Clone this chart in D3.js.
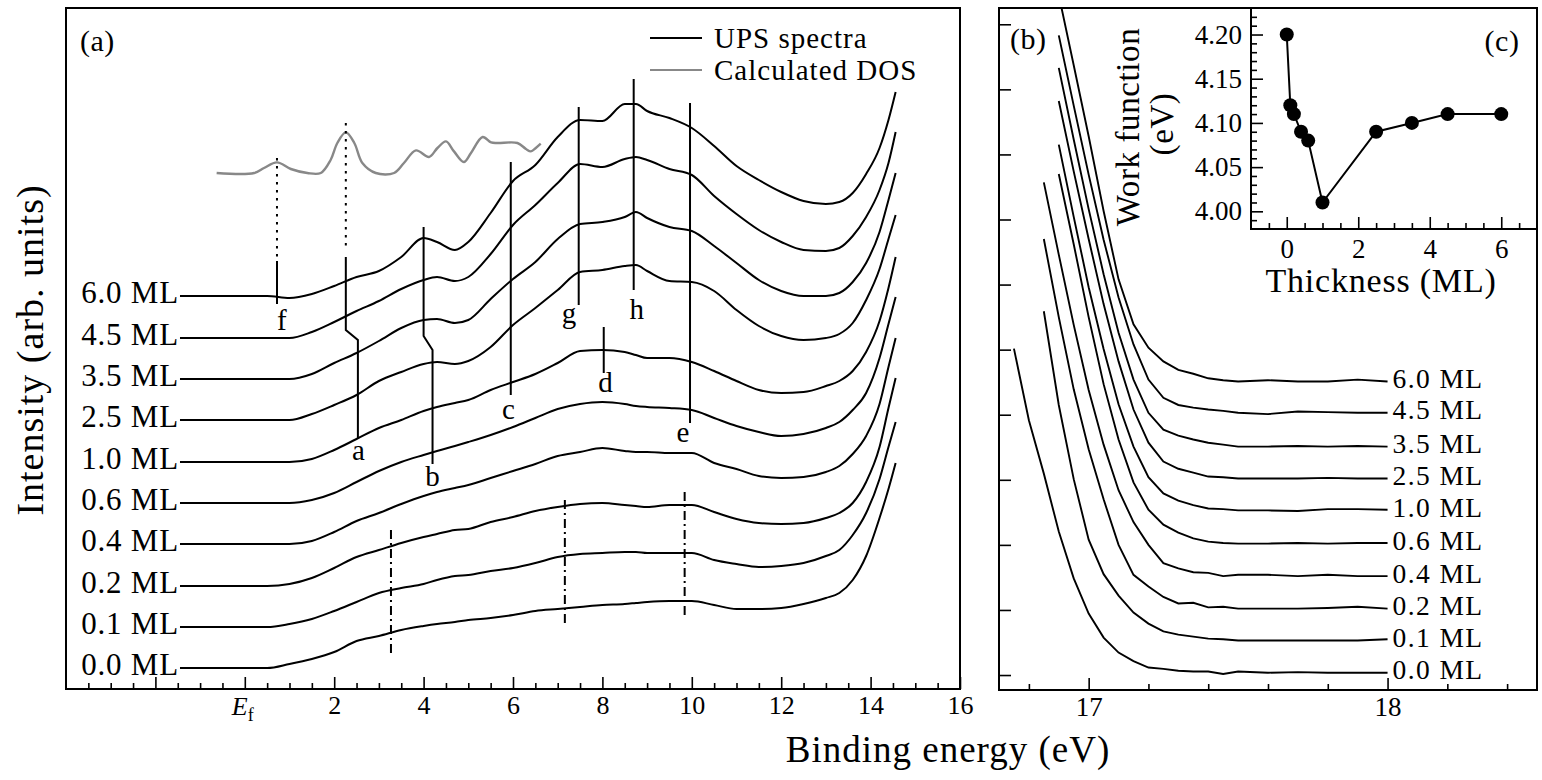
<!DOCTYPE html>
<html><head><meta charset="utf-8">
<script src="https://cdn.jsdelivr.net/npm/d3@7"></script>
<style>
body{margin:0;background:#fff}
svg{display:block}
text{font-family:"Liberation Serif","Times New Roman",serif;fill:#000}
</style>
</head><body>
<svg id="chart" width="1542" height="780"></svg>
<script>
// ---------------- DATA ----------------
const thicknessLabels = ["6.0 ML","4.5 ML","3.5 ML","2.5 ML","1.0 ML","0.6 ML","0.4 ML","0.2 ML","0.1 ML","0.0 ML"];

// Panel (a): UPS spectra, binding energy grid (eV)
const energyA = [-1.45,0,0.5,1.0,1.5,2.0,2.5,3.0,3.5,4.0,4.3,4.7,5.0,5.5,6.0,6.5,7.0,7.5,8.0,8.5,8.75,9.0,9.5,10.0,10.5,11.0,11.5,12.0,12.5,13.0,13.3,13.6,13.9,14.2,14.4,14.56];
const offsetA = [393,351,310,269,227,186,145,103,62,21];
const ups60 = [0,0,0,-2,2,10,19,25,39,58,54,46,54,83,115,131,159,176,175,192,192,185,178,168,150,130,116,104,95,92,94,103,122,148,176,204];
const ups45 = [0,0,0,0,6,16,27,37,49,58,61,57,61,84,113,133,155,174,171,179,181,178,169,163,142,124,108,96,88,87,90,102,121,148,175,206];
const ups35 = [0,0,0,0,5,16,26,38,51,59,60,56,59,80,100,117,140,155,157,162,167,161,152,148,133,116,99,88,83,83,86,97,116,147,179,206];
const ups25 = [0,0,0,0,6,15,25,39,48,56,58,56,59,73,95,112,130,148,150,154,155,149,139,138,129,110,94,84,80,82,86,97,120,151,181,205];
const ups10 = [0,0,0,0,3,12,23,34,42,51,55,59,62,72,80,88,99,111,112,110,107,104,104,100,91,81,72,69,70,76,81,91,110,141,174,205];
const ups06 = [0,0,0,0,3,10,21,32,41,48,52,57,61,68,76,85,94,99,101,99,97,96,95,93,85,77,71,67,69,75,81,93,110,145,179,206];
const ups04 = [0,0,0,0,3,12,23,31,40,48,52,56,59,66,73,80,88,92,96,93,92,92,91,91,81,75,68,66,67,72,78,90,108,140,177,206];
const ups02 = [0,0,0,2,8,18,29,36,43,49,52,56,57,64,69,75,79,82,83,81,80,79,81,81,74,67,63,62,63,68,73,83,104,139,178,208];
const ups01 = [0,0,0,3,8,16,25,34,39,43,47,51,52,56,59,64,70,73,74,75,75,74,74,74,67,63,60,61,64,71,77,92,114,148,180,205];
const ups00 = [0,0,0,4,9,16,27,32,38,42,44,46,48,50,53,57,59,61,63,64,65,66,67,67,63,59,59,60,64,70,75,88,112,150,179,205];
const upsSeries = [ups60,ups45,ups35,ups25,ups10,ups06,ups04,ups02,ups01,ups00];

// Calculated DOS
const dosE = [-0.63,0.21,0.43,0.72,1.03,1.40,1.70,1.92,2.07,2.26,2.45,2.63,2.93,3.34,3.56,3.83,4.12,4.31,4.50,4.68,4.90,5.06,5.32,5.51,5.65,6.10,6.29,6.40,6.51,6.62];
const dosI = [0,0,5,10.6,4,0,0,13,30,40.6,30,10,0,0,10,22.6,16,25,31.6,21.6,11,20,36,30.6,30,30,24,21.6,25,29.3];
const dosOffset = 516;

// Peak markers (energy, top, bottom) and labels
const peakNames = ["c","g","h","d","e"];
const peakE = [5.95,7.47,8.70,8.03,9.96];
const peakTop = [527,582,610,362,586];
const peakBottom = [294,384,399,316,266];
const peakLabelE = [5.9,7.25,8.77,8.07,9.8];
const peakLabelV = [280,376,380,307,257];
// kinked markers a, b and f
const markA_E = [2.26,2.26,2.53,2.53], markA_V = [432,359,349,251];
const markB_E = [4.0,4.0,4.2,4.2], markB_V = [462,353,339,225];
const markF_E = [0.72,0.72], markF_V = [428,385];
const kinkLabels = ["a","b","f"], kinkLabelE = [2.54,4.2,0.83], kinkLabelV = [239,213,369];
// dotted DOS-to-peak guides
const dotE = [0.72,2.26], dotTop = [531,566], dotBottom = [428,442];
// dash-dot guides
const dashE = [3.27,7.16,9.84], dashTop = [159,189,197], dashBottom = [32,62,71];

const tickLabelsA = [2,4,6,8,10,12,14,16];

// Panel (b): secondary-electron cutoff
const energyB = [16.75,16.80,16.85,16.90,16.95,17.00,17.05,17.10,17.15,17.20,17.25,17.30,17.35,17.40,17.45,17.50,17.60,17.70,17.80,17.90,18.00];
const offsetB = [4.51,4.03,3.51,3.02,2.53,2.02,1.52,1.02,0.53,0.035];
const cut60 = [null,null,7.03,5.94,4.86,3.77,2.62,1.57,0.88,0.52,0.31,0.18,0.12,0.05,0.02,0,0.02,0,0,0.03,0];
const cut45 = [null,null,null,5.80,4.72,3.66,2.66,1.77,1.05,0.51,0.23,0.12,0.08,0.05,0.03,0,-0.02,0.02,0.01,0,0];
const cut35 = [null,null,null,5.82,4.72,3.65,2.65,1.75,1.03,0.52,0.26,0.17,0.11,0.06,0.03,0,0,0.01,0,0.01,0];
const cut25 = [null,null,null,5.80,4.72,3.68,2.68,1.80,1.06,0.55,0.26,0.15,0.09,0.03,0.02,0,0,0,0.01,0,0];
const cut10 = [null,null,null,5.62,4.51,3.43,2.48,1.63,0.98,0.51,0.26,0.15,0.08,0.03,0.02,0,0,-0.01,0.02,0.02,0.01];
const cut06 = [null,null,null,5.68,4.60,3.48,2.45,1.60,0.94,0.52,0.29,0.17,0.08,0.03,0.01,0,0,0.01,0,0.01,0.01];
const cut04 = [null,null,6.05,4.94,3.86,2.86,2.02,1.32,0.83,0.48,0.20,0.12,0.06,0.05,0,0.02,0.02,0,0.02,0,0];
const cut02 = [null,null,5.68,4.48,3.37,2.45,1.68,0.98,0.52,0.34,0.18,0.08,0.09,0.02,0.03,0,0,0,0.01,0.03,0];
const cut01 = [null,null,5.06,3.62,2.48,1.55,1.02,0.69,0.43,0.26,0.14,0.09,0.06,0.03,0.02,0,0,0,0,0,0.02];
const cut00 = [4.98,3.88,3.06,2.17,1.45,0.91,0.54,0.31,0.18,0.08,0.06,0.03,0.02,0.02,-0.02,0.02,0,0.01,0,0,0];
const cutSeries = [cut60,cut45,cut35,cut25,cut10,cut06,cut04,cut02,cut01,cut00];

// Panel (c): work function vs thickness
const wfThickness = [0,0.1,0.2,0.4,0.6,1.0,2.5,3.5,4.5,6.0];
const wfValue = [4.20,4.12,4.11,4.09,4.08,4.01,4.09,4.10,4.11,4.11];

// ---------------- DRAW ----------------
const FONT = '"Liberation Serif","Times New Roman",serif';
const svg = d3.select("#chart");
const A = {l:66, r:960, t:8, b:689};
const B = {l:999, r:1537, t:8, b:690};
const C = {l:1251, r:1537, t:8, b:229};

const xA = d3.scaleLinear().domain([-4,16]).range([A.l,A.r]);
const yA = d3.scaleLinear().domain([0,681]).range([A.b,A.t]);
const xB = d3.scaleLinear().domain([16.7,18.5]).range([B.l,B.r]);
const yB = d3.scaleLinear().domain([-0.23,10.25]).range([B.b,B.t]);
const xC = d3.scaleLinear().domain([-1,7]).range([C.l,C.r]);
const yC = d3.scaleLinear().domain([3.98,4.23]).range([C.b,C.t]);

function styleAxis(g, fs){
  g.attr("font-family",FONT);
  g.select(".domain").remove();
  g.selectAll(".tick line").attr("stroke","#000").attr("stroke-width",1.6);
  g.selectAll("text").attr("font-family",FONT).attr("font-size",fs).attr("fill","#000");
}
function txt(parent, x, y, s, size, opts){
  opts = opts || {};
  const t = parent.append("text").attr("font-size",size).text(s);
  if (opts.rotate) t.attr("transform",`translate(${x},${y}) rotate(-90)`); else t.attr("x",x).attr("y",y);
  if (opts.anchor) t.attr("text-anchor",opts.anchor);
  if (opts.central) t.attr("dominant-baseline","central");
  if (opts.ls) t.style("letter-spacing",opts.ls+"px");
  return t;
}

// ---- Panel (a) ----
const gA = svg.append("g");
gA.append("g").attr("transform",`translate(0,${A.b})`)
  .call(d3.axisBottom(xA).tickValues(d3.range(-3.5,16,0.5).filter(v=>v%2!==0)).tickSize(-6).tickFormat(""))
  .call(g=>styleAxis(g,26));
gA.append("g").attr("transform",`translate(0,${A.b})`)
  .call(d3.axisBottom(xA).tickValues([-2,0].concat(tickLabelsA)).tickSize(-12).tickPadding(7)
    .tickFormat(d=>tickLabelsA.includes(d)?d:""))
  .call(g=>styleAxis(g,26));
// E_f label
const ef = gA.append("text").attr("x",xA(0)-2).attr("y",A.b+26).attr("text-anchor","middle").attr("font-size",26);
ef.append("tspan").attr("font-style","italic").text("E");
ef.append("tspan").attr("font-size",18).attr("dy",6).text("f");

const lineA = d3.line().x(d=>xA(d[0])).y(d=>yA(d[1]));
const lineAs = d3.line().x(d=>xA(d[0])).y(d=>yA(d[1])).curve(d3.curveMonotoneX);
upsSeries.forEach((s,i)=>{
  const pts = energyA.map((e,j)=>[e, offsetA[i]+s[j]]);
  gA.append("path").attr("d",lineAs(pts)).attr("fill","none").attr("stroke","#000").attr("stroke-width",2);
  txt(gA, xA(energyA[0])-1, yA(offsetA[i])-4, thicknessLabels[i], 31, {anchor:"end", central:true, ls:0.8});
});
// DOS
const dosLine = d3.line().x(d=>xA(d[0])).y(d=>yA(d[1])).curve(d3.curveCatmullRom.alpha(0.5));
gA.append("path").attr("d",dosLine(dosE.map((e,j)=>[e,dosOffset+dosI[j]])))
  .attr("fill","none").attr("stroke","#888").attr("stroke-width",2.4);

// markers
const mk = (E,V,dash)=>gA.append("path").attr("d",lineA(E.map((e,j)=>[e,V[j]])))
  .attr("fill","none").attr("stroke","#000").attr("stroke-width",2).attr("stroke-dasharray",dash||null);
peakE.forEach((e,i)=>{
  mk([e,e],[peakTop[i],peakBottom[i]]);
  txt(gA, xA(peakLabelE[i]), yA(peakLabelV[i]), peakNames[i], 29, {anchor:"middle", central:true});
});
mk(markA_E,markA_V); mk(markB_E,markB_V); mk(markF_E,markF_V);
kinkLabels.forEach((n,i)=>txt(gA, xA(kinkLabelE[i]), yA(kinkLabelV[i]), n, 29, {anchor:"middle", central:true}));
dotE.forEach((e,i)=>mk([e,e],[dotTop[i],dotBottom[i]],"2.5,5.5"));
dashE.forEach((e,i)=>mk([e,e],[dashTop[i],dashBottom[i]],"9,4,2,4"));

// legend
const legendNames = ["UPS spectra","Calculated DOS"], legendColors = ["#000","#888"];
legendNames.forEach((n,i)=>{
  const y = 38 + i*32;
  gA.append("line").attr("x1",650).attr("x2",702).attr("y1",y).attr("y2",y).attr("stroke",legendColors[i]).attr("stroke-width",2.2);
  txt(gA, 714, y, n, 29, {central:true, ls:1});
});
txt(gA, 80, 40, "(a)", 30, {central:true, ls:0.5});
gA.append("rect").attr("x",A.l).attr("y",A.t).attr("width",A.r-A.l).attr("height",A.b-A.t)
  .attr("fill","none").attr("stroke","#000").attr("stroke-width",2);

// ---- Panel (b) ----
const gB = svg.append("g");
svg.append("clipPath").attr("id","clipB").append("rect").attr("x",B.l).attr("y",B.t).attr("width",B.r-B.l).attr("height",B.b-B.t);
gB.append("g").attr("transform",`translate(0,${B.b})`)
  .call(d3.axisBottom(xB).tickValues([16.8,17.2,17.4,17.6,17.8,18.2,18.4]).tickSize(-6).tickFormat(""))
  .call(g=>styleAxis(g,26));
gB.append("g").attr("transform",`translate(0,${B.b})`)
  .call(d3.axisBottom(xB).tickValues([17,18]).tickSize(-12).tickPadding(7).tickFormat(d3.format("d")))
  .call(g=>styleAxis(g,27));
gB.append("g").attr("transform",`translate(${B.l},0)`)
  .call(d3.axisLeft(yB).tickValues(d3.range(0,11)).tickSize(-12).tickFormat(""))
  .call(g=>styleAxis(g,26));
const lineB = d3.line().defined(d=>d[1]!==null).x(d=>xB(d[0])).y(d=>yB(d[1]));
const gBc = gB.append("g").attr("clip-path","url(#clipB)");
cutSeries.forEach((s,i)=>{
  const pts = energyB.map((e,j)=>[e, s[j]===null?null:offsetB[i]+s[j]]);
  gBc.append("path").attr("d",lineB(pts)).attr("fill","none").attr("stroke","#000").attr("stroke-width",1.9);
  txt(gB, xB(energyB[energyB.length-1])+5, yB(offsetB[i])-3, thicknessLabels[i], 27.5, {central:true, ls:1.4});
});
txt(gB, 1010, 38, "(b)", 30, {central:true, ls:0.5});
gB.append("rect").attr("x",B.l).attr("y",B.t).attr("width",B.r-B.l).attr("height",B.b-B.t)
  .attr("fill","none").attr("stroke","#000").attr("stroke-width",2);

// ---- Panel (c) inset ----
const gC = svg.append("g");
gC.append("g").attr("transform",`translate(0,${C.b})`)
  .call(d3.axisBottom(xC).tickValues(d3.range(-0.5,7,0.5).filter(v=>v%2!==0)).tickSize(-6).tickFormat(""))
  .call(g=>styleAxis(g,26));
gC.append("g").attr("transform",`translate(0,${C.b})`)
  .call(d3.axisBottom(xC).tickValues([0,2,4,6]).tickSize(-12).tickPadding(10).tickFormat(d3.format("d")))
  .call(g=>styleAxis(g,27));
gC.append("g").attr("transform",`translate(${C.l},0)`)
  .call(d3.axisLeft(yC).tickValues(d3.range(399,423).map(v=>v/100).filter(v=>Math.round(v*100)%5!==0)).tickSize(-6).tickFormat(""))
  .call(g=>styleAxis(g,26));
gC.append("g").attr("transform",`translate(${C.l},0)`)
  .call(d3.axisLeft(yC).tickValues([4.00,4.05,4.10,4.15,4.20]).tickSize(-12).tickPadding(9).tickFormat(d3.format(".2f")))
  .call(g=>styleAxis(g,27));
const lineC = d3.line().x((d,i)=>xC(wfThickness[i])).y(d=>yC(d));
gC.append("path").attr("d",lineC(wfValue)).attr("fill","none").attr("stroke","#000").attr("stroke-width",2);
gC.selectAll("circle").data(wfValue).join("circle")
  .attr("cx",(d,i)=>xC(wfThickness[i])).attr("cy",d=>yC(d)).attr("r",7).attr("fill","#000");
gC.append("path").attr("d",`M${C.l},${C.t}V${C.b}H${C.r}`).attr("fill","none").attr("stroke","#000").attr("stroke-width",2);
txt(gC, 1502, 40, "(c)", 30, {anchor:"middle", central:true, ls:0.5});
txt(gC, 1128, 127, "Work function", 33, {rotate:true, anchor:"middle", central:true, ls:0.6});
txt(gC, 1162, 124, "(eV)", 33, {rotate:true, anchor:"middle", central:true, ls:0.6});
txt(gC, 1381, 292, "Thickness (ML)", 34, {anchor:"middle", ls:0.8});

// ---- shared titles ----
txt(svg, 948, 762, "Binding energy (eV)", 37, {anchor:"middle", ls:1});
txt(svg, 30, 350, "Intensity (arb. units)", 38, {rotate:true, anchor:"middle", central:true, ls:1});
</script>
</body></html>
